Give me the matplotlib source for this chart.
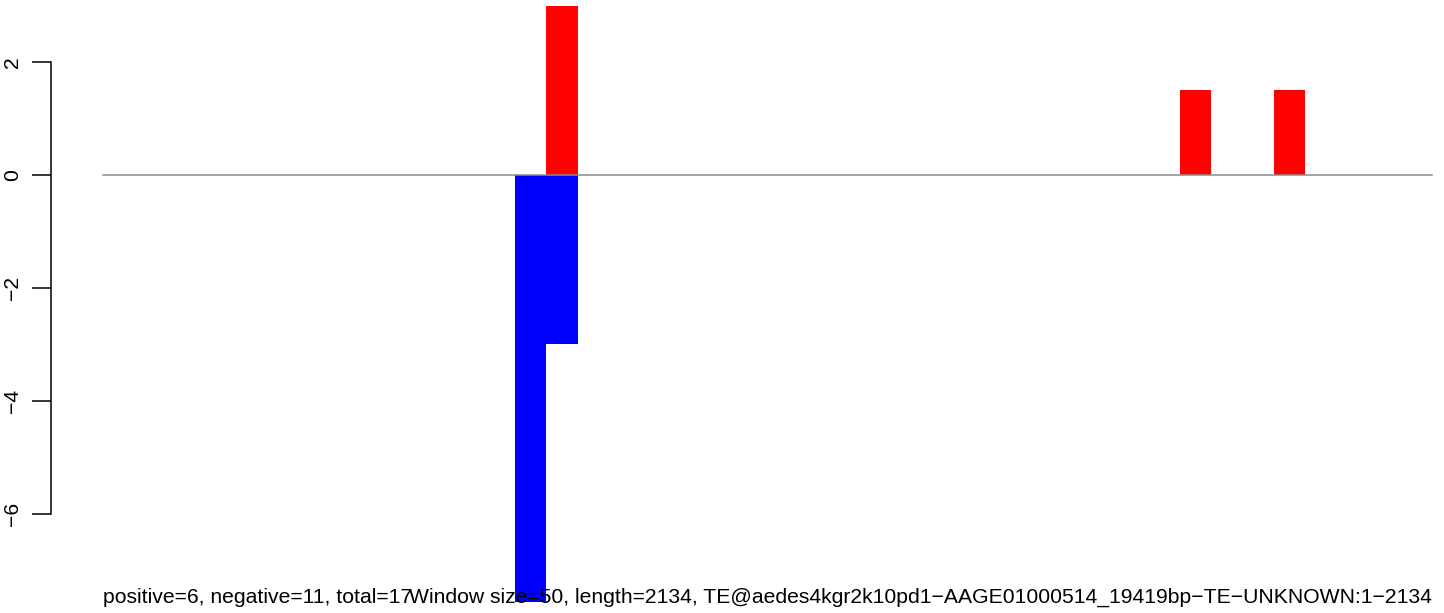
import numpy as np
import matplotlib
matplotlib.use('Agg')
from matplotlib import pyplot as plt

plt.rcParams['font.family'] = ['Liberation Sans', 'DejaVu Sans']

# window counts along the TE (bp position of window centre)
blue_pos = [686, 737]
blue_val = [-8, -3]
red_pos = [737, 1754, 1905]
red_val = [3, 1.5, 1.5]
win_size = 50
te_length = 2134
y_ticks = [-6, -4, -2, 0, 2]
left_text = 'positive=6, negative=11, total=17'
right_text = 'Window size=50, length=2134, TE@aedes4kgr2k10pd1\u2212AAGE01000514_19419bp\u2212TE\u2212UNKNOWN:1\u22122134'

W, H = 1444, 613
fig = plt.figure(figsize=(W / 100, H / 100), dpi=100)
ax = fig.add_axes([51 / W, 11 / H, (W - 51) / W, 598 / H])

ax.bar(blue_pos, blue_val, width=win_size, color='#0000ff', linewidth=0)
ax.bar(red_pos, red_val, width=win_size, color='#ff0000', linewidth=0)
ax.plot([0, te_length], [0, 0], color='#8c8c8c', lw=1.1)

ax.set_xlim(-83.5, 2153.2)
ax.set_ylim(-7.558, 3.027)

for s in ['top', 'right', 'bottom']:
    ax.spines[s].set_visible(False)
ax.spines['left'].set_bounds(-6, 2)
ax.spines['left'].set_linewidth(1.1)
ax.set_xticks([])
ax.set_yticks(y_ticks)
ax.set_yticklabels([str(t).replace('-', '\u2212') for t in y_ticks], rotation=90, va='center', fontsize=15.2)
ax.tick_params(axis='y', length=14, width=1.1, pad=7)

fig.text(103 / W, 10 / H, left_text, ha='left', va='baseline', fontsize=15.2)
fig.text(1432 / W, 10 / H, right_text, ha='right', va='baseline', fontsize=15.2)

fig.savefig('out.png', dpi=100)
